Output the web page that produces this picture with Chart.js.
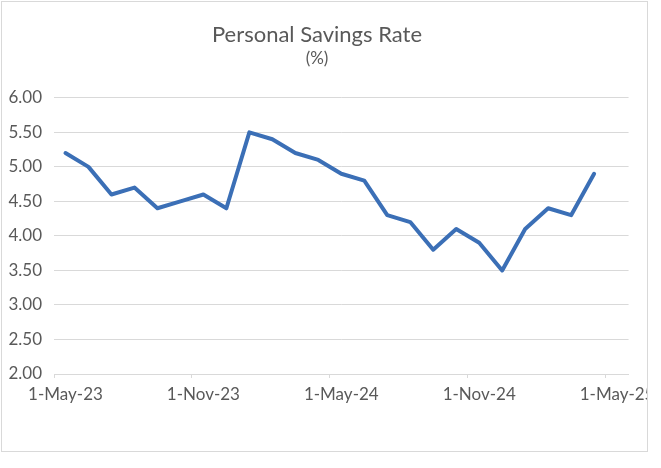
<!DOCTYPE html>
<html>
<head>
<meta charset="utf-8">
<script src="https://cdn.jsdelivr.net/npm/chart.js@4/dist/chart.umd.min.js"></script>
<style>
  html, body { margin: 0; padding: 0; background: #fff; }
  canvas { display: block; }
</style>
</head>
<body>
<canvas id="chart" width="661" height="468"></canvas>
<script>
// Monthly labels, 1-May-23 .. 1-May-25 (last bin is empty)
const months = [
  '1-May-23', '1-Jun-23', '1-Jul-23', '1-Aug-23', '1-Sep-23', '1-Oct-23',
  '1-Nov-23', '1-Dec-23', '1-Jan-24', '1-Feb-24', '1-Mar-24', '1-Apr-24',
  '1-May-24', '1-Jun-24', '1-Jul-24', '1-Aug-24', '1-Sep-24', '1-Oct-24',
  '1-Nov-24', '1-Dec-24', '1-Jan-25', '1-Feb-25', '1-Mar-25', '1-Apr-25',
  '1-May-25'
];

// Personal savings rate (%)
const savingsRate = [
  5.2, 5.0, 4.6, 4.7, 4.4, 4.5,
  4.6, 4.4, 5.5, 5.4, 5.2, 5.1,
  4.9, 4.8, 4.3, 4.2, 3.8, 4.1,
  3.9, 3.5, 4.1, 4.4, 4.3, 4.9,
  null
];

const FONT = 'Lato, "Open Sans", sans-serif';
const TEXT = '#595959';
const GRID = '#d9d9d9';

// Outer frame like the Excel chart object, clipping the last label
const framePlugin = {
  id: 'frame',
  beforeDraw: (chart) => {
    const ctx = chart.ctx;
    ctx.save();
    ctx.fillStyle = '#fff';
    ctx.fillRect(0, 0, chart.width, chart.height);
    ctx.restore();
  },
  afterDraw: (chart) => {
    const ctx = chart.ctx;
    ctx.save();
    ctx.fillStyle = '#fff';
    ctx.fillRect(648, 0, chart.width - 648, chart.height);
    ctx.fillRect(0, 452, chart.width, chart.height - 452);
    ctx.strokeStyle = GRID;
    ctx.lineWidth = 1;
    ctx.strokeRect(1.5, 1.5, 646, 450);
    ctx.restore();
  }
};

new Chart(document.getElementById('chart'), {
  type: 'line',
  data: {
    labels: months,
    datasets: [{
      label: 'Personal Savings Rate',
      data: savingsRate,
      borderColor: '#3b6fb6',
      borderWidth: 4,
      borderJoinStyle: 'round',
      borderCapStyle: 'round',
      pointRadius: 0,
      tension: 0,
      fill: false
    }]
  },
  options: {
    responsive: false,
    animation: false,
    devicePixelRatio: 1,
    layout: { padding: { top: 0, left: 0, right: 27, bottom: 54 } },
    plugins: {
      legend: { display: false },
      tooltip: { enabled: false },
      title: {
        display: true,
        text: 'Personal Savings Rate',
        color: TEXT,
        font: { family: FONT, size: 22, weight: 'normal' },
        padding: { top: 22, bottom: 0 }
      },
      subtitle: {
        display: true,
        text: '(%)',
        color: TEXT,
        font: { family: FONT, size: 17, weight: 'normal' },
        padding: { top: 0, bottom: 29 }
      }
    },
    scales: {
      x: {
        offset: true,
        border: { display: true, color: GRID, width: 1 },
        grid: {
          offset: true,
          drawOnChartArea: false,
          drawTicks: true,
          tickLength: 4,
          color: (c) => (c.index % 6 === 0 ? GRID : 'rgba(0,0,0,0)')
        },
        ticks: {
          autoSkip: false,
          maxRotation: 0,
          minRotation: 0,
          padding: 6,
          color: TEXT,
          font: { family: FONT, size: 17 },
          callback: (val, i) => (i % 6 === 0 ? months[i] : '')
        },
        afterFit: (scale) => { scale.height = 40; }
      },
      y: {
        min: 2,
        max: 6,
        border: { display: false },
        grid: { color: GRID, lineWidth: 1, drawTicks: false },
        ticks: {
          stepSize: 0.5,
          padding: 12,
          color: TEXT,
          font: { family: FONT, size: 17 },
          callback: (v) => v.toFixed(2)
        },
        afterFit: (scale) => { scale.width = 54; }
      }
    }
  },
  plugins: [framePlugin]
});
</script>
</body>
</html>
